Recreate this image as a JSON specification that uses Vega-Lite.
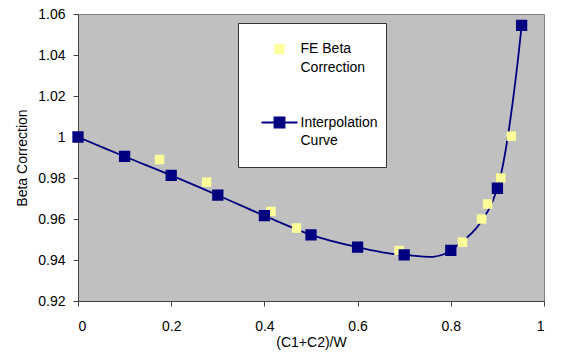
{
  "$schema": "https://vega.github.io/schema/vega-lite/v6.json",
  "autosize": {"type": "none"},
  "padding": {"left": 78, "top": 14, "right": 28, "bottom": 63},
  "width": 466,
  "height": 287,
  "background": "#ffffff",
  "config": {
    "view": {"fill": "#c0c0c0", "stroke": "#808080", "strokeWidth": 1},
    "font": "Liberation Sans",
    "style": {"guide-label": {"lineHeight": 18.5}},
    "axis": {
      "grid": false,
      "labelFont": "Liberation Sans",
      "labelFontSize": 14,
      "labelColor": "#000000",
      "titleFont": "Liberation Sans",
      "titleFontSize": 14,
      "titleFontWeight": "normal",
      "titleColor": "#000000",
      "tickColor": "#404040",
      "tickSize": 5,
      "domainColor": "#404040"
    }
  },
  "data": {
    "values": [
      {"x": 0.175, "y": 0.989, "series": "FE Beta Correction"},
      {"x": 0.276, "y": 0.978, "series": "FE Beta Correction"},
      {"x": 0.414, "y": 0.9637, "series": "FE Beta Correction"},
      {"x": 0.469, "y": 0.9556, "series": "FE Beta Correction"},
      {"x": 0.689, "y": 0.9446, "series": "FE Beta Correction"},
      {"x": 0.825, "y": 0.9487, "series": "FE Beta Correction"},
      {"x": 0.866, "y": 0.96, "series": "FE Beta Correction"},
      {"x": 0.879, "y": 0.9673, "series": "FE Beta Correction"},
      {"x": 0.907, "y": 0.98, "series": "FE Beta Correction"},
      {"x": 0.93, "y": 1.0004, "series": "FE Beta Correction"},
      {"x": 0.0, "y": 1.0, "series": "Interpolation Curve"},
      {"x": 0.1, "y": 0.9905, "series": "Interpolation Curve"},
      {"x": 0.2, "y": 0.9813, "series": "Interpolation Curve"},
      {"x": 0.3, "y": 0.9716, "series": "Interpolation Curve"},
      {"x": 0.4, "y": 0.9616, "series": "Interpolation Curve"},
      {"x": 0.5, "y": 0.9523, "series": "Interpolation Curve"},
      {"x": 0.6, "y": 0.9463, "series": "Interpolation Curve"},
      {"x": 0.7, "y": 0.9425, "series": "Interpolation Curve"},
      {"x": 0.8, "y": 0.9447, "series": "Interpolation Curve"},
      {"x": 0.9, "y": 0.975, "series": "Interpolation Curve"},
      {"x": 0.952, "y": 1.0545, "series": "Interpolation Curve"}
    ]
  },
  "encoding": {
    "x": {
      "field": "x", "type": "quantitative",
      "scale": {"domain": [0, 1], "nice": false, "zero": false},
      "axis": {"values": [0, 0.2, 0.4, 0.6, 0.8, 1], "format": "~g", "title": "(C1+C2)/W", "labelPadding": 13, "titlePadding": 2}
    },
    "y": {
      "field": "y", "type": "quantitative",
      "scale": {"domain": [0.92, 1.06], "nice": false, "zero": false},
      "axis": {"values": [0.92, 0.94, 0.96, 0.98, 1, 1.02, 1.04, 1.06], "format": "~g", "title": "Beta Correction", "labelPadding": 8, "titlePadding": 8}
    }
  },
  "layer": [
    {
      "transform": [{"filter": "datum.series === 'Interpolation Curve'"}],
      "mark": {"type": "line", "interpolate": "cardinal", "color": "#000080", "strokeWidth": 1.8}
    },
    {
      "mark": {"type": "point", "shape": "square", "filled": true, "opacity": 1, "size": 90},
      "encoding": {
        "color": {
          "field": "series", "type": "nominal",
          "scale": {"domain": ["FE Beta Correction", "Interpolation Curve"], "range": ["#ffff99", "#000080"]},
          "legend": {
            "title": " ",
            "titleOrient": "bottom",
            "titleFontSize": 10,
            "titlePadding": 1,
            "orient": "none",
            "legendX": 160,
            "legendY": 9,
            "fillColor": "#ffffff",
            "strokeColor": "#333333",
            "padding": 8,
            "symbolType": "M-1,0H1M-0.28,-0.28H0.28V0.28H-0.28Z",
            "symbolSize": 1296,
            "symbolOffset": 14.5,
            "symbolOpacity": 1,
            "labelOffset": 2,
            "rowPadding": 28.5,
            "labelFont": "Liberation Sans",
            "labelFontSize": 14,
            "labelColor": "#000000",
            "labelLimit": 300,
            "labelExpr": "datum.value == 'FE Beta Correction' ? ['FE Beta', 'Correction'] : ['Interpolation', 'Curve']"
          }
        },
        "stroke": {
          "field": "series", "type": "nominal",
          "scale": {"domain": ["FE Beta Correction", "Interpolation Curve"], "range": ["#ffff99", "#000080"]}
        },
        "strokeWidth": {
          "field": "series", "type": "ordinal",
          "scale": {"domain": ["FE Beta Correction", "Interpolation Curve"], "range": [0, 1.8]}
        }
      }
    }
  ]
}
